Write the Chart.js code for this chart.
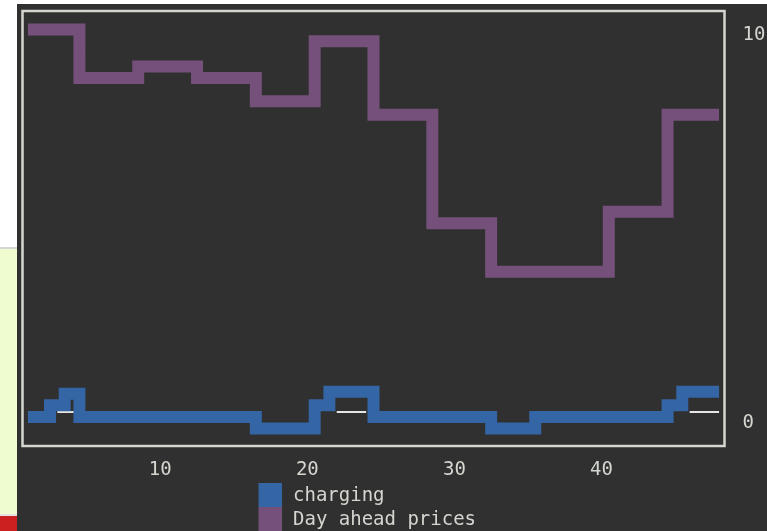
<!DOCTYPE html>
<html>
<head>
<meta charset="utf-8">
<script src="https://cdn.jsdelivr.net/npm/chart.js@4.4.1/dist/chart.umd.min.js"></script>
<style>
  html, body { margin: 0; padding: 0; background: #fff; overflow: hidden; }
  .strip { position: absolute; left: 0; width: 17px; }
  #panel { position: absolute; left: 17px; top: 4px; width: 750px; height: 527px; background: #303030; }
</style>
</head>
<body>
<div class="strip" style="top:0;height:247px;background:#fff"></div>
<div class="strip" style="top:247px;height:2px;background:#d6d6d6"></div>
<div class="strip" style="top:249px;height:265px;background:#eefccf"></div>
<div class="strip" style="top:514px;height:2px;background:#e2e2e2"></div>
<div class="strip" style="top:516px;height:15px;background:#cc1f1f"></div>
<div id="panel"><canvas id="termChart" width="750" height="527"></canvas></div>
<script>
// quarter-hour slots
const slots = [1, 2, 3, 4, 5, 6, 7, 8, 9, 10, 11, 12, 13, 14, 15, 16,
  17, 18, 19, 20, 21, 22, 23, 24, 25, 26, 27, 28, 29, 30, 31, 32,
  33, 34, 35, 36, 37, 38, 39, 40, 41, 42, 43, 44, 45, 46, 47, 48];

const charging = [0.15, 0.15, 0.45, 0.75, 0.15, 0.15, 0.15, 0.15, 0.15, 0.15, 0.15, 0.15, 0.15, 0.15, 0.15, 0.15,
  -0.15, -0.15, -0.15, -0.15, 0.45, 0.8, 0.8, 0.8, 0.15, 0.15, 0.15, 0.15, 0.15, 0.15, 0.15, 0.15,
  -0.15, -0.15, -0.15, 0.15, 0.15, 0.15, 0.15, 0.15, 0.15, 0.15, 0.15, 0.15, 0.45, 0.8, 0.8, 0.8];

const prices = [10.15, 10.15, 10.15, 10.15, 8.9, 8.9, 8.9, 8.9, 9.2, 9.2, 9.2, 9.2, 8.9, 8.9, 8.9, 8.9,
  8.3, 8.3, 8.3, 8.3, 9.85, 9.85, 9.85, 9.85, 7.95, 7.95, 7.95, 7.95, 5.15, 5.15, 5.15, 5.15,
  3.9, 3.9, 3.9, 3.9, 3.9, 3.9, 3.9, 3.9, 5.45, 5.45, 5.45, 5.45, 7.95, 7.95, 7.95, 7.95];

// white baseline pieces that show through under the charging line
const baseMarks = [null, null, 0.28, 0.28, 0.28, null, null, null, null, null, null, null, null, null, null, null,
  null, null, null, null, null, 0.28, 0.28, 0.28, null, null, null, null, null, null, null, null,
  null, null, null, null, null, null, null, null, null, null, null, null, null, 0.28, 0.28, 0.28];

const xTicks = [10, 20, 30, 40];
const yTicks = [0, 10];

const FG = "#d3d7cf";
const MONO = { family: "'DejaVu Sans Mono', monospace", size: 19 };

// box around the plot area
const frame = {
  id: "frame",
  afterDatasetsDraw(chart) {
    const { ctx, chartArea: a } = chart;
    ctx.save();
    ctx.strokeStyle = FG;
    ctx.lineWidth = 2.5;
    ctx.strokeRect(a.left, a.top, a.right - a.left, a.bottom - a.top);
    ctx.restore();
  },
};

// legend stacked one entry per line, like the terminal output
const stackedLegend = {
  id: "stackedLegend",
  afterDraw(chart, args, opts) {
    const ctx = chart.ctx;
    ctx.save();
    ctx.font = "19px 'DejaVu Sans Mono', monospace";
    ctx.textBaseline = "middle";
    ctx.textAlign = "left";
    chart.data.datasets.filter((d) => d.label).forEach((d, i) => {
      const y = opts.top + i * opts.row;
      ctx.fillStyle = d.borderColor;
      ctx.fillRect(opts.left, y, opts.box, opts.row);
      ctx.fillStyle = FG;
      ctx.fillText(d.label, opts.left + opts.box + opts.gap, y + opts.row / 2 + 1);
    });
    ctx.restore();
  },
};

document.addEventListener("DOMContentLoaded", () => {
  const ctx = document.getElementById("termChart").getContext("2d");
  new Chart(ctx, {
    type: "line",
    data: {
      labels: slots,
      datasets: [
        {
          label: "charging",
          data: charging,
          borderColor: "#3465a4",
          borderWidth: 12,
          stepped: "middle",
        },
        {
          label: "Day ahead prices",
          data: prices,
          borderColor: "#75507b",
          borderWidth: 12,
          stepped: "middle",
        },
        {
          label: "",
          data: baseMarks,
          borderColor: "#e6e6e6",
          borderWidth: 2,
          spanGaps: false,
        },
      ],
    },
    options: {
      responsive: false,
      animation: false,
      layout: { padding: { left: 5.5, top: 7, right: 0, bottom: 48 } },
      elements: {
        point: { radius: 0 },
        line: { tension: 0, borderCapStyle: "butt", borderJoinStyle: "miter" },
      },
      plugins: {
        legend: { display: false },
        tooltip: { enabled: false },
        stackedLegend: { left: 241.5, top: 479, row: 24, box: 23.5, gap: 11 },
      },
      scales: {
        x: {
          type: "linear",
          min: 0.63,
          max: 48.37,
          grid: { display: false, drawTicks: false },
          border: { display: false },
          afterBuildTicks: (axis) => { axis.ticks = xTicks.map((v) => ({ value: v })); },
          afterFit: (axis) => { axis.height = 37; axis.paddingLeft = 0; axis.paddingRight = 0; },
          ticks: { color: FG, font: MONO, padding: 13, maxRotation: 0, autoSkip: false },
        },
        y: {
          position: "right",
          min: -0.6,
          max: 10.63,
          grid: { display: false, drawTicks: false },
          border: { display: false },
          afterBuildTicks: (axis) => { axis.ticks = yTicks.map((v) => ({ value: v })); },
          afterFit: (axis) => { axis.width = 42.5; axis.paddingTop = 0; axis.paddingBottom = 0; },
          ticks: { color: FG, font: MONO, padding: 18, crossAlign: "near" },
        },
      },
    },
    plugins: [frame, stackedLegend],
  });
});
</script>
</body>
</html>
